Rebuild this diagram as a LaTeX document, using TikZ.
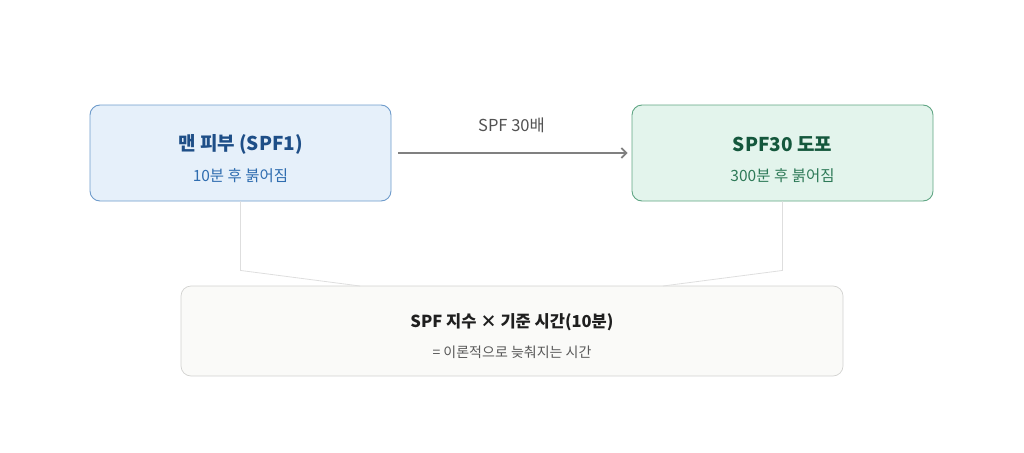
\documentclass[tikz,border=0pt]{standalone}
\usepackage{fontspec}
\setmainfont{Noto Sans CJK KR}
\usepackage{xcolor}
\usetikzlibrary{arrows.meta,positioning}

\definecolor{skinfill}{HTML}{E6F0FA}
\definecolor{skinline}{HTML}{6E9BCB}
\definecolor{skinhead}{HTML}{1E4E87}
\definecolor{skinsub}{HTML}{2F6DB0}
\definecolor{coatfill}{HTML}{E3F4EC}
\definecolor{coatline}{HTML}{5FA583}
\definecolor{coathead}{HTML}{14573C}
\definecolor{coatsub}{HTML}{2E7A58}
\definecolor{sumfill}{HTML}{FAFAF8}
\definecolor{sumline}{HTML}{D2D2D0}

\begin{document}
\begin{tikzpicture}[
  x=1pt, y=-1pt,
  every node/.style={inner sep=0pt},
  card/.style={draw, rounded corners=10pt, line width=0.9pt, minimum width=301pt, minimum height=96pt},
  head/.style={font=\fontsize{19}{22}\selectfont\bfseries},
  sub/.style={font=\fontsize{15.5}{18}\selectfont},
  link/.style={draw=black!13, line width=0.8pt},
  >={Straight Barb[length=5pt,width=10pt]}
]
  \useasboundingbox (0,0) rectangle (1024,452);

  % the two cards on top
  \node[card, fill=skinfill, draw=skinline] (skin) at (240.5,153) {};
  \node[head, text=skinhead] (skinT) at (240.5,144) {맨 피부 (SPF1)};
  \node[sub, text=skinsub] (skinS) at (240.5,176) {10분 후 붉어짐};

  \node[card, fill=coatfill, draw=coatline] (coat) at (782.5,153) {};
  \node[head, text=coathead] (coatT) at (782.5,144) {SPF30 도포};
  \node[sub, text=coatsub] (coatS) at (782.5,176) {300분 후 붉어짐};

  \draw[->, draw=black!50, line width=1.8pt, shorten <=7pt, shorten >=4pt] (skin) -- (coat)
    node[midway, above=19pt, font=\fontsize{16.5}{19}\selectfont, text=black!68] (times) {SPF 30배};

  % summary card below
  \node[card, fill=sumfill, draw=sumline, line width=0.7pt, minimum width=662pt, minimum height=90pt] (rule) at (512,331) {};
  \node[font=\fontsize{16.5}{19}\selectfont\bfseries, text=black!88] (ruleT) at (512,322) {SPF 지수 × 기준 시간(10분)};
  \node[font=\fontsize{14}{17}\selectfont, text=black!65] (ruleS) at (512,352) {= 이론적으로 늦춰지는 시간};

  \coordinate (inL) at (360,286);
  \coordinate (inR) at (663,286);
  \draw[link] (skin.south) -- ++(0,69) -- (inL);
  \draw[link] (coat.south) -- ++(0,69) -- (inR);
\end{tikzpicture}
\end{document}
